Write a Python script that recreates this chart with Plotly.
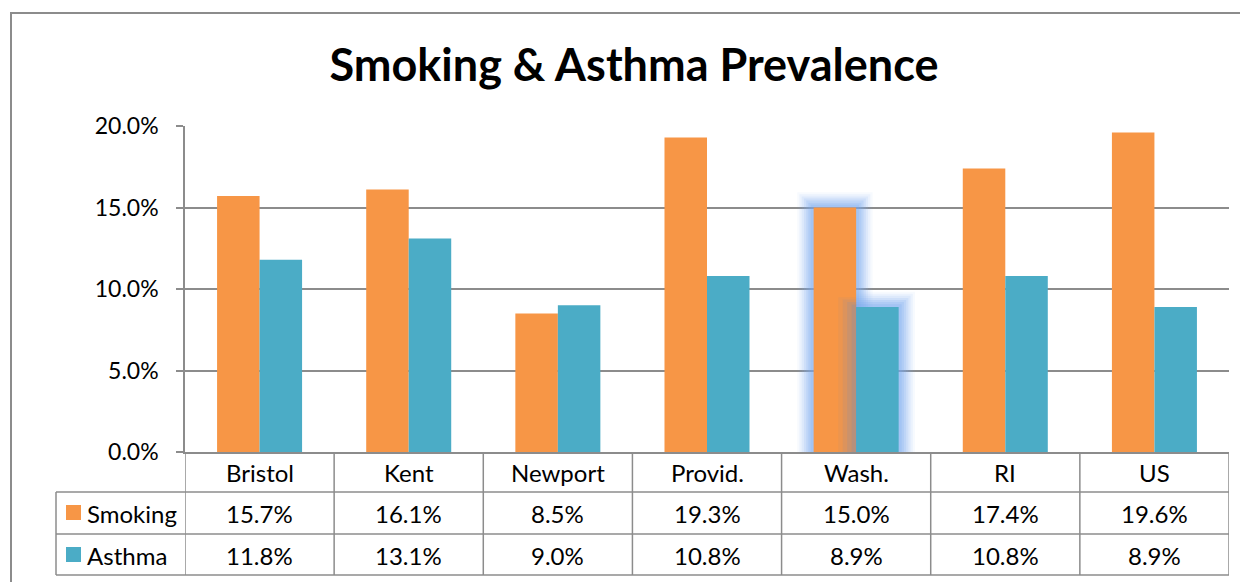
import plotly.graph_objects as go

# data (percent)
categories = ["Bristol", "Kent", "Newport", "Provid.", "Wash.", "RI", "US"]
smoking = [15.7, 16.1, 8.5, 19.3, 15.0, 17.4, 19.6]
asthma = [11.8, 13.1, 9.0, 10.8, 8.9, 10.8, 8.9]
y_ticks = [0, 5, 10, 15, 20]
highlight = "Wash."

ORANGE = "#F79646"
TEAL = "#4BACC6"
GRID = "#8C8C8C"
FONT = "Lato"

OFF = 8  # page body margin
W, H = 1248 - OFF, 582 - OFF
ML, MR, MT, MB = 185 - OFF, 19, 126 - OFF, 130
PH = H - MT - MB  # plot height in px
PW = W - ML - MR
BARGAP = 0.43


def py(px):
    """screen row -> paper y"""
    return (H - MB - (px - OFF)) / PH


def pxx(px):
    """screen column -> paper x"""
    return (px - OFF - ML) / PW


fig = go.Figure()
fig.add_trace(go.Bar(x=categories, y=[v / 100 for v in smoking], name="Smoking",
                     marker=dict(color=ORANGE, line=dict(width=0))))
fig.add_trace(go.Bar(x=categories, y=[v / 100 for v in asthma], name="Asthma",
                     marker=dict(color=TEAL, line=dict(width=0))))

shapes = []
annotations = []

# outer chart frame (runs off the right / bottom of the picture)
shapes.append(dict(type="rect", xref="paper", yref="paper",
                   x0=pxx(11), x1=pxx(1262), y0=py(600), y1=py(13),
                   line=dict(color=GRID, width=2), fillcolor="rgba(0,0,0,0)"))

# data table grid
row_lines = [492, 534, 575]
for r in row_lines:
    shapes.append(dict(type="line", xref="paper", yref="paper",
                       x0=pxx(56), x1=1, y0=py(r), y1=py(r),
                       line=dict(color=GRID, width=1.5)))
for i in range(len(categories) + 1):
    shapes.append(dict(type="line", xref="x", yref="paper",
                       x0=i - 0.5, x1=i - 0.5, y0=0, y1=py(575),
                       line=dict(color=GRID, width=1.5)))
shapes.append(dict(type="line", xref="paper", yref="paper",
                   x0=pxx(56), x1=pxx(56), y0=py(492), y1=py(575),
                   line=dict(color=GRID, width=1.5)))

# header row, value rows
cell_font = dict(family=FONT, size=24, color="black")
for i, c in enumerate(categories):
    annotations.append(dict(x=c, y=py(472), xref="x", yref="paper", text=c,
                            showarrow=False, yanchor="middle", font=cell_font))
    annotations.append(dict(x=c, y=py(513), xref="x", yref="paper", text=f"{smoking[i]:.1f}%",
                            showarrow=False, yanchor="middle", font=cell_font))
    annotations.append(dict(x=c, y=py(555), xref="x", yref="paper", text=f"{asthma[i]:.1f}%",
                            showarrow=False, yanchor="middle", font=cell_font))

# legend keys inside the table
for name, color, yc in [("Smoking", ORANGE, 513), ("Asthma", TEAL, 555)]:
    shapes.append(dict(type="rect", xref="paper", yref="paper",
                       x0=pxx(66), x1=pxx(81), y0=py(yc + 7), y1=py(yc - 8),
                       line=dict(width=0), fillcolor=color))
    annotations.append(dict(x=pxx(85), y=py(yc), xref="paper", yref="paper", text=name,
                            showarrow=False, xanchor="left", yanchor="middle", font=cell_font))

# selection glow around the highlighted bars
k = categories.index(highlight)
bw = (1 - BARGAP) / 2
glow_steps = [(0.11, 0.06), (0.095, 0.09), (0.08, 0.12), (0.065, 0.15),
              (0.05, 0.18), (0.035, 0.2), (0.02, 0.22)]
for (x0, x1, top) in [(k - bw, k, smoking[k] / 100), (k, k + bw, asthma[k] / 100)]:
    for step, alpha in glow_steps:
        shapes.append(dict(type="rect", xref="x", yref="y", layer="between",
                           x0=x0 - step, x1=x1 + step, y0=0, y1=top + step * 0.085,
                           line=dict(width=0), fillcolor=f"rgba(120,170,240,{alpha})"))
# teal glow spilling over the orange bar
for step, alpha in [(0.12, 0.08), (0.09, 0.12), (0.06, 0.16), (0.03, 0.2)]:
    shapes.append(dict(type="rect", xref="x", yref="y", layer="above",
                       x0=k - step, x1=k, y0=0, y1=asthma[k] / 100 + step * 0.05,
                       line=dict(width=0), fillcolor=f"rgba(110,140,190,{alpha})"))

fig.update_layout(
    width=W, height=H,
    margin=dict(l=ML, r=MR, t=MT, b=MB),
    paper_bgcolor="white", plot_bgcolor="white",
    barmode="group", bargap=BARGAP, bargroupgap=0,
    showlegend=False,
    font=dict(family=FONT, size=24, color="black"),
    title=dict(text="<b>Smoking & Asthma Prevalence</b>", x=(634 - OFF) / W, xref="container",
               xanchor="center", y=1 - (65 - OFF) / H, yref="container", yanchor="middle",
               font=dict(family=FONT, size=45, color="black")),
    xaxis=dict(type="category", range=[-0.5, len(categories) - 0.5],
               showticklabels=False, showgrid=False, zeroline=False,
               showline=True, linecolor=GRID, linewidth=1.5, ticks=""),
    yaxis=dict(range=[0, 0.2], tickvals=[t / 100 for t in y_ticks], tickformat=".1%",
               showgrid=True, gridcolor=GRID, gridwidth=1.5, zeroline=False,
               showline=True, linecolor=GRID, linewidth=1.5,
               ticks="outside", ticklen=7, tickcolor=GRID, tickwidth=1.5,
               ticklabelstandoff=13,
               tickfont=dict(family=FONT, size=23, color="black")),
    shapes=shapes, annotations=annotations,
)

fig.write_html("out.html")
